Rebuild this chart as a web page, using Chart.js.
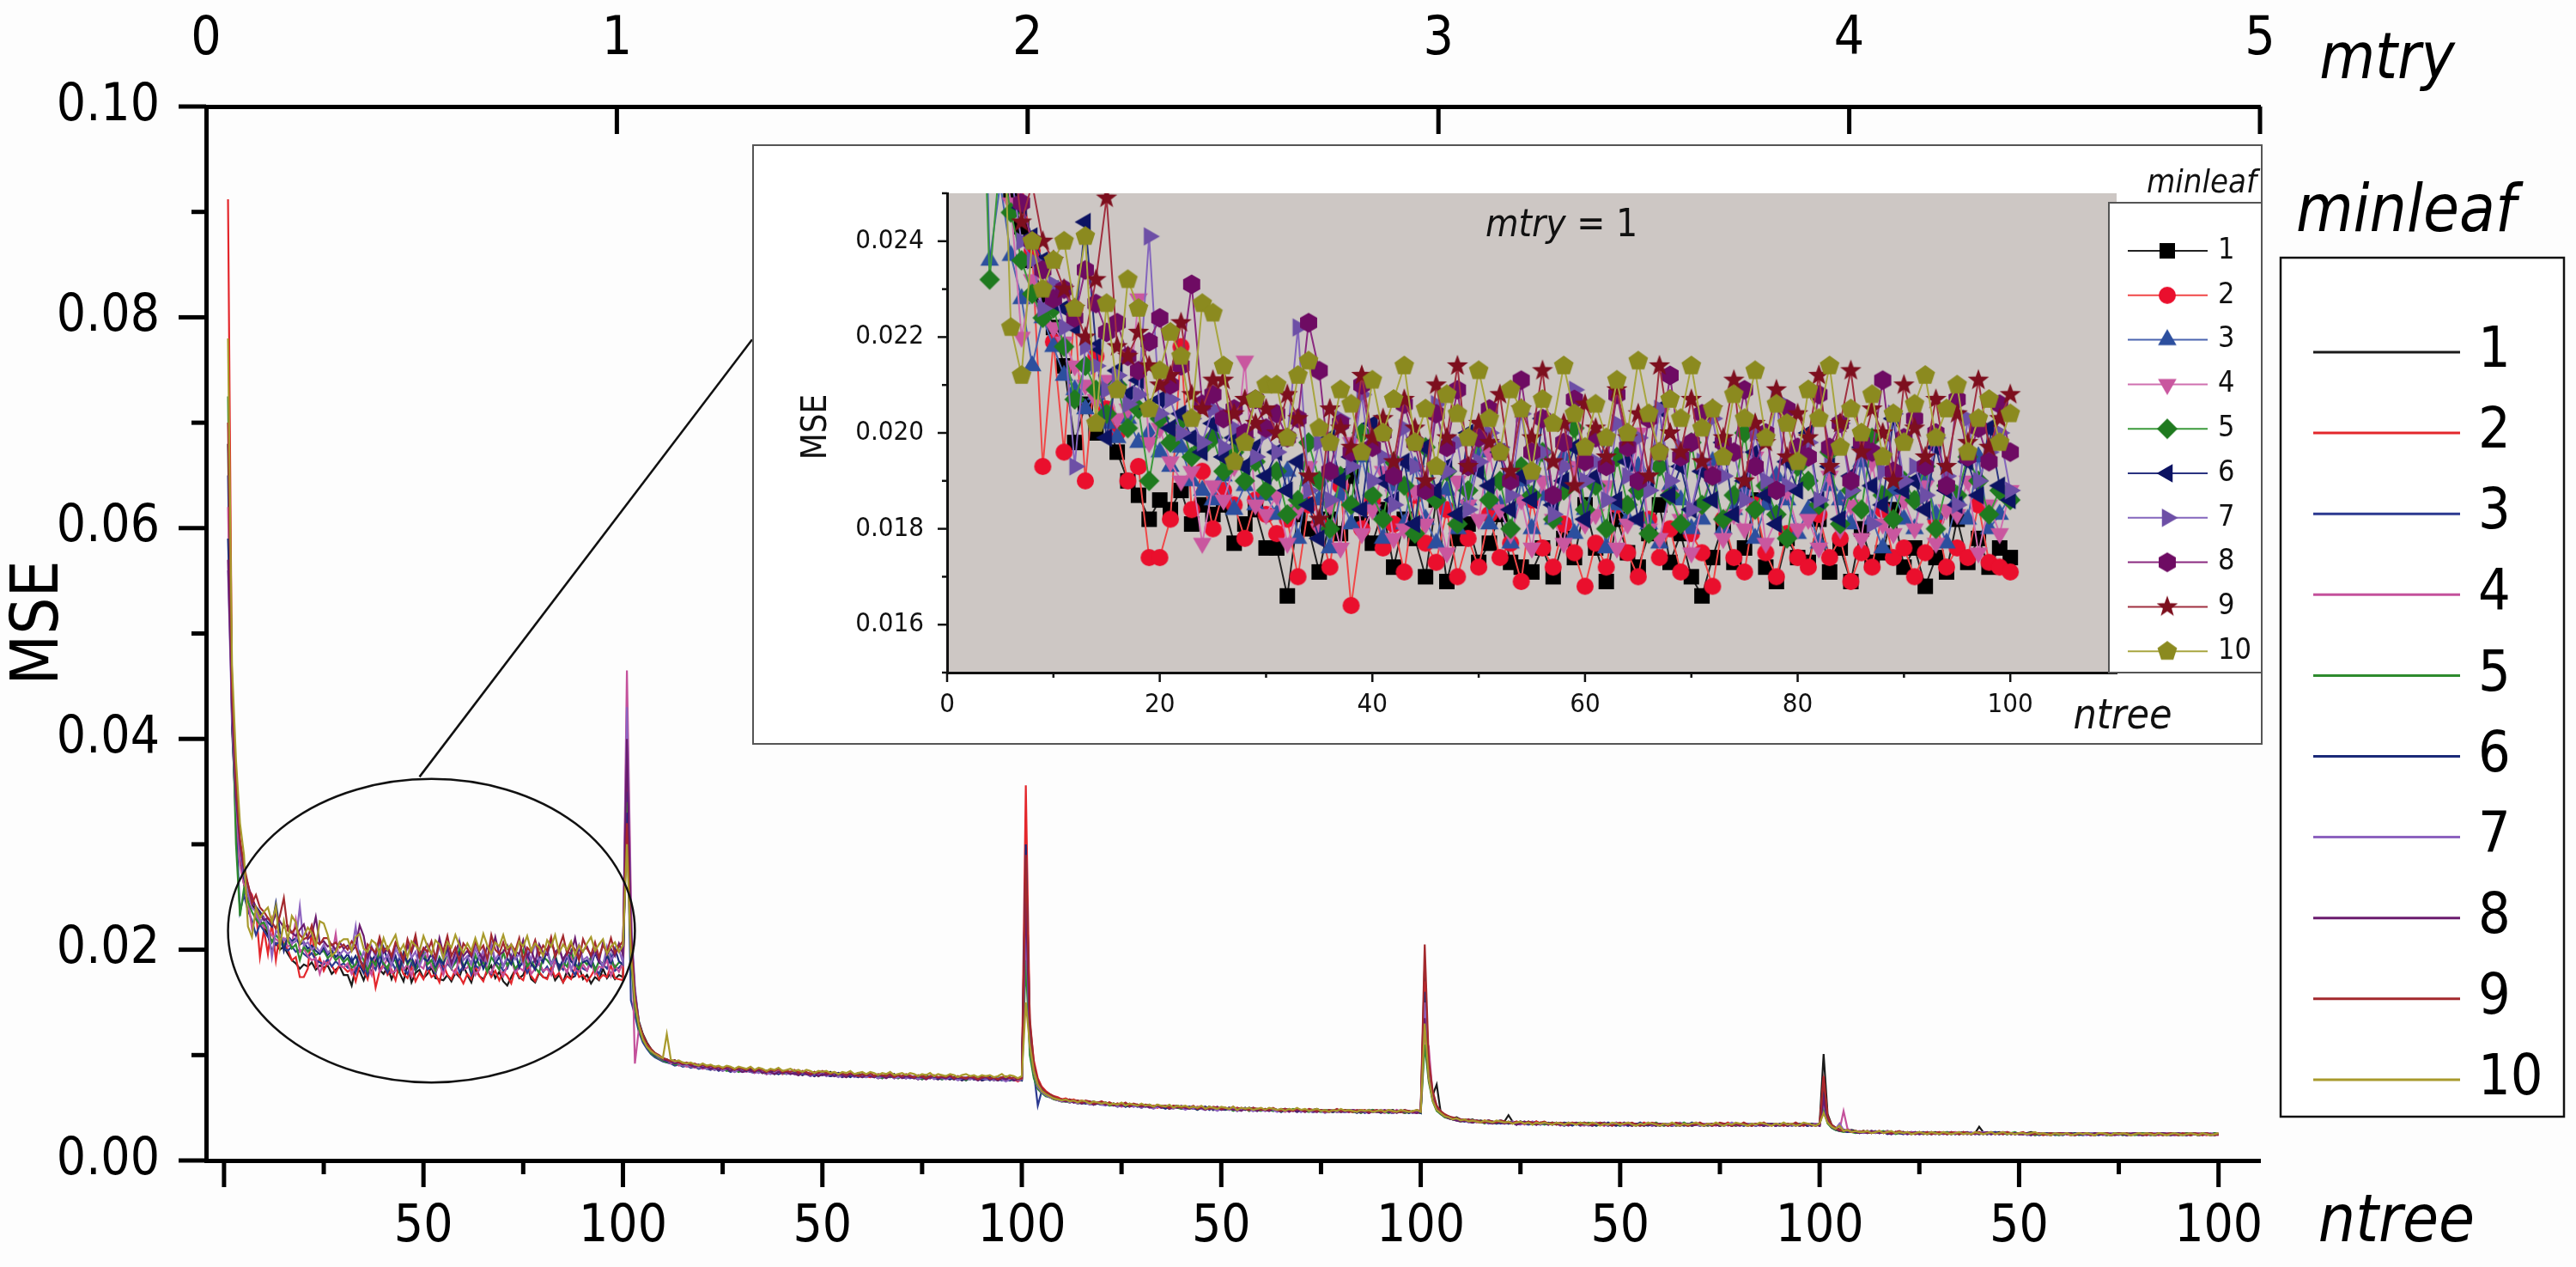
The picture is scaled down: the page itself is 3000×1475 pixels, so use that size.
<!DOCTYPE html>
<html><head><meta charset="utf-8">
<script src="https://cdn.jsdelivr.net/npm/chart.js@4.4.1/dist/chart.umd.min.js"></script>
<style>
html,body{margin:0;padding:0;background:#fdfdfd;}
#wrap{position:relative;width:3000px;height:1475px;overflow:hidden;}
#main{position:absolute;left:0;top:0;}
#inset{position:absolute;left:876px;top:168px;}
</style></head><body>
<div id="wrap"><canvas id="main" width="3000" height="1475"></canvas><canvas id="inset" width="1759" height="699"></canvas></div>
<script>
// MSE x 10^4 ; each series: one array per mtry (1..5), ntree 1..100
const minleaf1 = [
[680,410,330,285,262,250,243,236,228,222,214,198,206,200,203,196,190,187,182,186,184,188,181,185,183,185,177,181,184,176,176,166,183,180,171,182,179,191,181,177,184,172,182,178,170,186,169,178,181,173,177,183,173,172,171,176,170,178,174,185,176,169,182,175,172,179,185,173,179,170,166,174,181,173,176,186,172,169,178,174,173,182,171,176,169,180,173,175,184,172,176,168,174,171,182,173,178,172,176,174],
[380,215,160,132,120,112,106,102,99,97,96,94,95,92,93,91,92,90,91,89,90,88,89,87,88,86,88,87,85,86,87,85,86,84,86,85,84,85,83,85,84,83,85,82,84,83,82,84,81,83,82,84,81,83,82,80,82,81,83,80,81,82,80,81,79,81,80,82,79,80,81,79,80,78,80,81,79,80,78,79,80,78,79,80,78,79,77,79,78,80,78,79,77,78,79,77,78,76,78,77],
[260,118,88,74,68,64,62,60,59,58,57,58,56,57,55,56,55,54,55,54,55,53,54,53,54,52,53,52,53,51,52,53,51,52,51,52,50,51,52,50,51,50,51,49,50,51,49,50,49,50,49,50,48,50,49,48,50,49,48,49,48,49,48,47,49,48,47,48,49,47,48,47,48,49,47,48,47,46,48,47,47,48,46,47,48,46,47,48,46,47,46,47,48,46,47,46,47,45,47,46],
[185,82,62,72,46,43,42,40,41,39,39,38,39,37,38,37,38,36,37,38,37,43,37,36,37,36,35,36,37,35,36,35,36,35,34,36,35,34,35,36,35,34,35,34,36,35,34,35,34,35,34,35,34,33,35,34,35,34,33,34,35,34,33,34,35,34,33,34,35,34,33,34,35,34,33,34,35,33,34,35,34,33,34,35,34,33,34,35,34,33,34,35,33,34,35,34,33,35,34,35],
[101,44,34,31,30,29,28,29,28,27,28,27,28,27,26,27,28,27,26,27,27,26,27,26,27,26,25,26,27,26,26,27,26,25,26,27,26,25,26,32,27,26,25,26,27,26,25,26,25,26,25,26,27,26,25,26,25,26,25,26,26,25,26,25,26,25,26,25,26,25,25,26,25,26,25,26,25,26,25,26,26,25,26,25,26,25,26,25,26,25,25,26,25,26,25,26,25,25,26,25]];
const minleaf2 = [
[912,445,340,290,268,258,252,238,193,219,196,226,190,216,205,200,190,193,174,174,182,218,184,192,180,188,185,178,186,183,179,182,170,185,181,172,189,164,180,186,176,181,171,187,177,173,184,170,178,172,183,174,177,169,186,176,172,181,175,168,177,172,185,175,170,182,174,180,171,179,175,168,182,174,171,185,175,170,179,174,172,183,174,178,169,175,172,184,174,176,170,175,182,172,176,174,185,173,172,171],
[360,205,150,128,116,108,103,100,97,96,95,93,94,91,92,90,91,89,90,88,89,87,88,86,87,88,85,87,86,85,86,84,85,86,83,85,84,83,85,82,84,83,82,84,81,83,82,80,83,81,82,80,82,81,79,81,80,82,79,81,80,79,81,78,80,79,81,78,80,79,78,80,79,77,79,80,78,79,77,79,78,77,79,78,76,78,79,77,78,76,77,78,76,78,77,76,78,77,75,77],
[356,130,95,78,70,66,63,61,60,58,59,57,58,56,57,55,56,55,54,56,54,55,53,54,52,54,53,52,53,51,53,51,52,50,52,51,50,52,50,51,50,51,49,51,50,49,51,48,50,49,50,48,49,50,48,49,47,49,48,49,47,49,48,47,48,49,47,48,46,48,47,48,46,48,47,46,48,47,46,47,48,46,47,46,48,47,45,47,46,47,46,47,45,47,46,45,47,46,45,46],
[170,88,60,50,45,42,41,40,39,38,39,37,38,37,36,38,37,36,37,36,37,36,35,37,36,35,36,35,37,35,36,35,34,36,35,34,35,36,34,35,34,35,36,34,35,33,35,34,36,34,35,34,33,35,34,36,34,33,35,34,33,35,34,33,34,35,33,34,35,33,34,33,35,34,33,34,36,34,33,34,35,33,34,33,35,34,33,34,33,35,34,33,34,35,33,34,33,34,35,33],
[80,40,33,30,29,28,29,27,28,27,27,28,26,27,28,26,27,26,27,26,27,26,25,27,26,25,26,27,25,26,26,25,26,27,25,26,25,26,25,27,26,25,26,25,26,25,27,25,26,25,25,26,25,26,25,26,25,24,26,25,26,25,24,26,25,26,25,24,25,26,25,24,26,25,25,26,24,25,26,25,24,25,26,25,24,25,26,25,24,25,25,26,24,25,26,25,24,25,25,24]];
const minleaf3 = [
[650,420,320,236,252,237,228,214,224,218,212,209,205,208,202,199,203,198,200,196,193,197,190,188,186,191,184,189,185,187,183,192,178,190,186,176,187,181,195,185,178,189,181,193,182,177,188,180,186,196,181,185,177,190,180,187,182,195,179,184,190,176,185,182,193,181,177,189,186,180,182,194,180,184,188,178,185,191,186,179,184,177,189,186,181,194,182,176,188,182,180,191,183,177,186,182,195,180,183,187],
[350,152,138,122,112,106,101,98,96,94,93,92,90,91,89,90,88,89,87,88,87,86,88,85,87,86,84,86,85,84,85,84,83,85,84,82,84,83,82,84,83,82,84,81,83,82,80,82,81,83,81,80,82,81,79,81,82,80,79,81,80,81,79,80,78,80,79,81,78,80,79,78,80,79,77,79,78,80,78,77,79,78,77,79,78,76,78,77,79,77,78,76,78,77,76,78,77,76,78,77],
[270,112,84,52,66,63,61,59,58,57,56,57,55,56,54,55,54,53,55,53,54,52,53,52,53,51,52,53,51,52,51,52,50,51,52,50,51,50,51,49,50,51,49,50,49,51,48,50,49,48,49,50,48,49,48,50,48,47,49,48,48,49,47,48,47,49,48,47,48,46,48,47,46,48,47,46,47,48,46,47,46,47,48,46,47,45,47,46,47,46,47,46,45,47,46,47,45,46,47,45],
[140,80,58,48,44,42,40,39,38,38,37,38,36,37,36,37,35,36,37,35,36,35,36,34,36,35,34,35,36,34,35,34,36,35,34,33,35,34,35,33,34,35,33,34,35,34,33,35,34,33,34,33,35,34,33,34,35,33,34,33,35,34,33,34,33,35,34,33,34,35,33,34,33,35,34,33,34,33,35,34,33,35,34,33,34,35,33,34,33,34,35,33,34,33,35,34,33,34,33,34],
[60,36,31,29,28,28,27,28,27,26,27,26,27,28,26,27,26,25,27,26,26,25,27,26,25,26,27,25,26,25,26,25,26,25,27,26,25,26,25,26,25,26,25,27,26,25,26,25,26,25,26,25,24,26,25,26,25,26,24,25,25,26,25,24,26,25,26,25,24,25,26,25,24,25,26,25,24,26,25,24,25,26,25,24,25,26,24,25,26,25,24,25,26,25,24,25,26,24,25,25]];
const minleaf4 = [
[620,430,335,280,262,248,220,232,226,222,219,214,210,207,211,203,205,228,198,201,194,190,192,177,189,186,193,215,185,183,187,177,184,193,180,185,176,198,179,184,192,178,180,188,181,186,175,190,185,182,196,184,179,186,176,190,182,177,193,181,183,189,176,181,200,180,178,187,182,175,185,192,178,183,180,195,177,182,188,180,182,176,191,180,185,178,194,181,179,186,180,189,177,184,183,190,175,185,179,188],
[465,250,92,125,116,108,103,100,97,95,94,92,93,90,91,89,90,88,89,87,88,87,86,88,85,87,86,84,86,85,84,86,83,85,84,82,84,83,85,82,83,84,82,81,83,82,84,80,82,81,82,80,81,83,80,79,81,82,80,79,81,80,79,81,78,80,82,79,78,80,79,81,78,80,79,77,79,80,78,79,78,79,77,80,78,77,79,78,76,78,79,77,78,76,78,79,77,78,76,77],
[210,105,80,68,64,62,60,58,57,56,57,55,56,54,55,56,54,53,55,54,53,54,52,53,51,53,52,51,53,52,51,52,50,51,50,52,49,51,50,51,49,50,51,49,50,48,50,49,48,50,49,48,50,47,49,48,49,47,48,49,47,48,49,47,48,46,48,47,49,47,46,48,47,46,48,47,46,48,47,46,47,46,48,47,45,47,46,47,48,46,45,47,46,48,46,45,47,46,45,47],
[118,108,62,50,46,43,41,40,39,38,38,37,38,36,37,36,38,35,36,37,35,36,37,35,36,34,36,35,34,36,35,34,36,35,33,35,34,36,35,34,33,35,34,36,34,33,35,34,33,35,34,36,33,34,35,33,34,35,34,33,34,33,35,34,33,35,34,33,36,34,33,35,34,33,34,35,33,34,33,35,34,33,35,34,33,34,35,34,33,34,33,34,35,33,34,33,35,34,33,34],
[50,38,33,30,29,47,30,28,27,28,27,28,26,27,26,27,28,26,27,26,25,26,27,26,25,27,26,25,26,27,25,26,25,27,26,25,26,25,27,26,26,25,26,25,26,27,25,26,25,26,25,26,25,24,26,25,26,25,26,24,26,25,24,25,26,25,26,24,25,26,25,24,26,25,26,24,25,26,25,24,26,25,24,25,26,25,24,26,25,24,25,24,26,25,24,26,25,24,25,26]];
const minleaf5 = [
[725,440,300,232,258,246,236,229,224,226,218,207,214,209,204,210,201,205,190,203,198,202,195,197,199,192,196,190,194,188,192,183,186,198,190,180,191,185,200,187,182,194,189,179,197,186,192,181,188,199,186,190,180,193,187,196,182,188,201,184,189,180,195,185,188,179,193,187,181,198,185,191,182,187,200,184,189,183,178,193,190,185,196,181,188,184,199,187,182,190,186,193,180,189,187,195,190,183,188,186],
[340,190,145,125,114,108,102,99,97,95,93,94,91,92,90,91,89,90,88,89,87,88,86,88,87,85,87,86,84,86,85,86,84,85,83,85,84,82,84,83,82,84,83,81,83,82,81,83,80,82,81,82,80,81,82,79,81,80,82,79,80,81,79,80,78,81,79,80,78,80,79,80,78,79,77,79,80,78,79,77,78,79,77,79,78,76,79,78,77,78,77,78,76,79,77,78,76,77,78,76],
[190,100,78,68,64,61,60,58,57,56,56,55,57,54,55,54,56,53,54,53,54,52,53,51,53,52,51,53,52,50,52,51,50,52,50,51,49,51,50,49,51,49,50,48,50,49,51,48,49,50,48,49,47,49,48,50,47,49,48,47,49,48,47,48,46,48,47,49,47,48,47,46,48,47,46,47,48,46,47,46,48,47,46,47,45,47,46,48,46,47,46,45,47,46,47,45,46,47,46,45],
[110,75,56,47,44,41,40,39,38,37,38,37,36,38,37,35,37,36,35,37,36,35,36,34,36,35,37,34,35,36,34,35,36,34,35,33,35,34,36,35,34,36,35,33,34,35,33,35,34,33,35,34,33,35,34,33,35,34,36,34,33,34,35,33,34,36,34,33,34,35,34,33,34,35,33,34,35,34,33,34,35,34,33,34,35,33,34,35,34,33,34,35,33,34,33,35,34,33,34,35],
[48,35,31,29,28,27,28,27,26,27,28,26,27,26,27,28,26,27,25,26,27,26,25,26,27,25,26,27,26,25,26,27,25,26,25,26,27,25,26,25,26,25,27,26,25,26,25,26,27,25,26,25,26,24,25,26,25,26,25,24,25,26,25,26,24,25,26,25,24,26,25,24,25,26,25,24,26,25,24,25,26,25,24,25,26,24,25,26,25,24,25,26,24,25,24,26,25,24,26,25]];
const minleaf6 = [
[590,455,350,298,268,255,247,241,236,230,226,222,244,218,199,213,208,211,205,207,201,204,199,196,202,195,199,193,197,191,196,188,194,185,178,199,190,195,184,202,190,186,194,181,197,188,193,183,200,192,189,196,184,191,186,203,185,190,197,182,191,199,186,194,182,190,205,187,193,184,192,186,198,183,190,196,187,181,194,188,200,186,193,182,191,197,189,185,203,188,190,184,197,188,185,194,187,201,189,186],
[330,200,150,128,116,109,104,100,98,96,94,93,95,92,91,92,90,91,89,90,88,89,87,88,86,88,87,85,87,86,85,87,84,86,85,83,85,84,82,84,83,84,82,83,81,83,82,80,82,81,82,80,81,83,80,81,79,81,80,82,79,81,80,78,80,79,81,78,80,79,78,80,79,77,79,78,80,78,77,79,78,77,79,78,76,78,79,77,78,76,77,79,77,76,78,77,76,78,77,76],
[300,125,90,75,68,64,62,60,58,57,58,56,57,55,56,54,55,56,54,53,55,53,54,52,53,51,53,52,51,53,51,52,50,52,51,49,51,50,52,50,49,51,50,48,50,49,51,48,50,49,48,50,49,47,49,48,50,48,47,49,48,47,49,48,46,48,47,48,46,48,47,48,46,47,48,46,47,46,48,47,46,48,47,45,47,46,48,46,47,45,47,46,45,47,46,48,45,47,46,45],
[160,85,60,49,45,42,41,39,40,38,37,39,36,38,37,36,38,37,35,36,37,35,36,34,37,35,36,35,34,36,35,36,34,35,34,36,35,33,35,34,36,34,35,33,35,34,36,34,33,35,34,33,35,34,36,34,33,35,34,33,35,34,33,35,34,33,34,36,34,33,34,35,33,34,33,35,34,33,35,34,33,34,35,33,34,33,35,34,33,35,34,33,34,35,33,34,33,35,34,33],
[65,39,32,30,29,28,27,28,27,26,27,28,26,27,26,27,25,26,27,26,25,27,26,25,26,27,26,25,26,25,27,26,25,26,25,27,26,25,26,25,26,25,26,27,25,26,25,26,25,26,25,26,25,26,24,25,26,25,26,25,24,26,25,26,25,24,25,26,25,24,26,25,24,25,26,25,24,25,26,25,24,25,26,24,25,26,25,24,25,26,25,24,25,26,24,25,26,25,24,25]];
const minleaf7 = [
[560,420,340,295,272,254,240,236,226,231,222,193,218,214,209,212,206,208,241,204,207,200,203,198,205,197,201,199,195,200,196,199,222,188,198,186,203,193,208,190,195,185,201,193,189,206,192,198,184,194,200,197,187,204,191,196,183,193,209,190,194,186,202,191,199,188,205,190,197,184,194,203,191,196,186,200,190,207,189,194,198,186,193,202,188,196,181,192,204,190,193,187,199,191,185,203,190,196,200,188],
[430,230,165,130,118,110,104,101,98,96,95,93,94,92,90,91,89,90,88,89,87,88,86,87,85,87,86,84,86,85,86,84,85,83,85,84,82,84,83,85,82,84,83,81,83,82,80,82,81,83,80,82,81,79,81,80,82,79,81,80,79,81,80,78,80,79,81,78,79,80,78,79,80,77,79,78,80,77,79,78,77,79,78,76,78,79,77,78,76,78,77,78,76,78,77,75,77,78,76,77],
[230,110,84,70,65,62,60,59,57,56,57,55,56,54,56,55,53,54,55,53,52,54,53,51,53,52,54,51,52,50,52,51,49,51,50,52,50,49,51,50,48,50,49,51,49,48,50,49,47,49,50,48,49,47,48,50,48,47,49,48,47,49,48,46,48,47,49,47,48,46,48,47,46,48,47,45,47,48,46,47,46,47,48,46,47,46,45,47,46,48,46,47,45,46,48,46,47,45,46,47],
[150,90,64,52,46,43,41,40,38,39,38,36,37,38,36,37,35,37,36,38,35,36,37,35,34,36,35,37,35,34,36,35,34,36,35,33,36,35,34,35,35,33,34,36,35,34,33,35,36,34,33,35,34,33,35,34,36,33,34,35,34,35,33,34,36,34,33,35,34,33,35,34,33,34,35,33,34,36,34,33,34,35,34,33,35,34,33,34,35,33,35,34,33,34,33,35,34,33,35,34],
[55,37,32,30,35,29,28,27,28,27,26,27,28,26,27,26,27,25,26,27,26,25,26,27,25,26,27,26,25,26,25,26,27,25,26,25,26,27,25,26,27,26,25,26,25,26,27,25,26,25,26,24,25,26,25,26,24,25,26,25,25,26,24,25,26,25,24,26,25,26,24,25,26,25,24,26,25,24,25,26,25,24,25,26,25,24,26,25,24,25,26,25,24,25,26,24,25,26,25,24]];
const minleaf8 = [
[570,430,345,300,275,262,248,240,234,228,230,224,234,227,221,223,216,213,219,224,210,214,231,206,208,203,205,200,207,201,204,199,203,223,213,192,202,196,210,197,200,191,206,198,188,204,197,209,193,199,205,196,190,211,196,203,187,198,207,194,199,193,208,197,190,203,196,212,195,198,204,191,198,196,209,193,200,188,205,197,195,208,197,202,190,198,196,211,192,199,203,193,200,189,207,195,201,194,206,196],
[400,220,160,130,118,110,105,101,99,96,95,94,92,93,91,92,90,89,90,88,89,87,88,86,88,87,85,87,86,84,86,85,84,86,83,85,84,82,84,83,84,82,83,81,84,82,81,83,80,82,81,83,80,82,81,79,82,80,81,79,81,80,79,81,80,78,80,79,81,78,80,79,78,80,79,77,79,80,78,79,78,80,77,79,78,77,79,78,76,78,79,77,78,76,78,77,79,76,77,78],
[250,115,86,72,66,63,61,59,58,57,56,57,55,56,54,55,56,53,54,55,53,54,52,53,52,54,51,53,52,51,52,50,51,52,50,51,49,51,50,52,50,49,51,49,50,48,50,49,51,48,49,50,48,49,47,49,48,50,47,49,48,47,49,48,47,49,46,48,47,48,46,48,47,46,48,47,46,47,48,46,47,46,48,47,46,47,45,47,46,47,48,46,47,45,47,46,47,46,45,47],
[135,78,58,49,45,42,40,39,38,37,38,37,36,38,36,37,36,35,37,36,35,37,36,34,35,37,35,36,34,35,36,34,35,36,34,35,33,35,36,34,35,34,33,35,34,36,34,33,35,34,36,34,33,35,34,33,35,34,33,35,34,33,35,34,33,34,35,33,34,35,33,34,35,34,33,35,34,33,34,33,35,34,33,35,34,33,34,35,33,34,34,33,35,34,33,34,35,33,34,33],
[58,38,32,30,28,29,28,27,27,26,27,26,28,27,26,27,26,25,27,26,27,25,26,27,25,26,25,27,26,25,26,25,27,26,25,26,27,25,26,25,26,27,25,26,25,27,26,25,26,25,25,26,24,26,25,26,25,24,26,25,26,25,26,24,25,26,25,24,26,25,25,26,25,24,25,26,24,25,26,25,24,26,25,24,25,26,25,24,25,26,25,24,26,25,24,25,26,24,25,25]];
const minleaf9 = [
[700,450,360,305,280,262,244,252,240,236,230,226,220,232,249,218,216,221,214,210,212,223,208,205,211,211,204,207,202,205,200,208,203,191,182,205,201,197,212,199,203,194,207,201,190,210,199,214,193,202,198,208,192,205,199,213,194,202,189,206,201,195,209,199,204,191,214,200,196,207,194,205,199,211,190,202,198,209,195,204,199,212,193,202,213,196,205,200,190,210,201,195,207,193,204,198,211,197,203,208],
[320,210,155,130,119,111,106,102,100,97,96,94,95,93,92,93,91,92,90,91,89,90,88,89,87,89,88,86,88,87,86,88,85,87,86,84,86,85,87,84,85,84,86,83,85,84,82,84,83,85,83,82,84,82,83,81,83,82,80,82,81,83,80,82,81,80,82,79,81,80,82,80,79,81,80,78,80,81,79,80,79,81,78,80,79,78,80,79,77,79,80,78,79,77,79,80,78,79,77,78],
[290,135,92,76,69,65,63,61,59,58,57,58,56,57,55,57,56,54,55,56,54,55,53,54,53,55,52,54,53,52,53,52,51,53,51,52,50,52,51,50,51,50,52,49,51,50,49,51,50,49,50,49,51,48,50,49,48,50,49,48,49,48,50,48,47,49,48,47,49,48,47,49,48,47,48,46,48,47,49,47,48,47,46,48,47,48,46,47,48,46,47,48,46,47,46,48,47,46,48,47],
[205,95,66,52,47,44,42,41,40,39,38,39,37,38,37,36,38,37,36,38,37,36,35,37,36,35,37,36,35,36,37,35,36,34,36,35,34,36,35,34,36,35,34,35,36,34,35,33,35,36,34,35,36,34,33,35,34,36,35,34,35,33,34,36,35,34,33,35,34,36,34,35,33,34,36,35,34,33,35,34,36,34,33,35,34,36,34,33,35,34,33,35,34,36,34,33,35,34,33,35],
[75,42,34,31,29,28,29,27,28,27,28,27,26,27,28,26,27,26,27,28,26,27,26,25,27,26,27,25,26,27,26,25,27,26,25,27,26,25,26,27,25,26,27,25,26,25,27,26,25,26,27,25,26,25,26,24,25,26,25,26,25,26,25,24,26,25,26,25,24,26,25,26,24,25,26,25,26,24,25,26,25,24,26,25,26,24,25,26,25,24,26,25,24,26,25,24,26,25,24,25]];
const minleaf10 = [
[780,470,380,320,290,222,212,240,230,236,240,226,241,202,227,209,232,226,205,213,221,216,203,227,225,214,194,198,207,210,210,199,212,215,201,198,209,206,196,211,200,207,214,198,205,193,208,204,199,213,203,196,209,205,192,207,202,214,204,197,206,199,211,200,215,204,196,207,203,214,201,205,195,208,203,213,199,206,202,194,209,203,214,197,205,200,208,195,204,198,206,212,199,205,210,196,203,207,198,204],
[300,195,150,128,115,108,104,101,99,97,120,96,94,95,93,92,93,91,90,92,90,91,89,90,88,90,89,87,89,88,87,89,86,88,87,85,87,86,88,85,86,87,85,86,84,86,85,83,85,84,85,83,84,82,84,83,85,82,83,84,82,84,83,81,83,82,84,81,82,83,81,83,82,80,82,81,83,80,82,81,80,82,81,79,81,82,80,81,79,81,80,81,79,80,82,79,81,80,78,80],
[150,110,85,72,66,63,61,59,58,57,58,56,57,55,57,56,54,56,55,54,55,53,54,53,55,52,54,53,52,54,52,53,51,53,52,51,53,50,52,51,52,50,51,50,52,49,51,50,49,51,50,49,51,48,50,49,50,48,49,50,48,50,49,48,49,47,49,48,50,48,49,47,48,49,47,48,46,48,47,49,47,48,47,46,48,47,48,46,47,48,46,48,47,46,48,47,46,47,48,46],
[130,78,57,48,45,42,41,39,40,38,39,37,38,37,36,38,37,36,38,37,36,37,35,36,37,35,36,34,36,35,36,35,34,36,35,34,36,35,34,36,35,34,36,35,33,35,34,36,35,34,35,36,34,33,35,34,36,35,34,33,35,34,36,34,33,35,34,35,36,34,33,35,34,36,34,33,35,34,36,35,34,33,35,34,36,35,34,33,35,34,36,34,35,33,34,36,35,34,33,35],
[45,36,32,30,33,28,29,27,28,27,27,28,26,27,28,26,27,28,26,27,26,27,25,26,27,26,25,27,26,25,27,26,25,26,27,25,26,25,27,26,25,26,27,25,26,27,25,26,25,26,26,25,26,27,25,26,25,24,26,25,25,26,24,25,26,25,26,25,24,26,26,25,24,26,25,26,25,24,25,26,25,26,25,24,26,25,24,25,26,25,24,25,26,25,24,26,25,24,25,26]];

const minleafLabels = ['1','2','3','4','5','6','7','8','9','10'];
const mtryTickValues = [0,1,2,3,4,5];
const mtryTickLabels = ['0','1','2','3','4','5'];
const ntreeTickValues = [0,25,50,75,100,125,150,175,200,225,250,275,300,325,350,375,400,425,450,475,500];
const ntreeTickLabels = ['','','50','','100','','50','','100','','50','','100','','50','','100','','50','','100'];
const mseTickValues = [0,0.01,0.02,0.03,0.04,0.05,0.06,0.07,0.08,0.09,0.10];
const mseTickLabels = ['0.00','','0.02','','0.04','','0.06','','0.08','','0.10'];
const insetMseTickValues = [0.015,0.016,0.017,0.018,0.019,0.020,0.021,0.022,0.023,0.024,0.025];
const insetMseTickLabels = ['','0.016','','0.018','','0.020','','0.022','','0.024',''];
const insetNtreeTickValues = [0,10,20,30,40,50,60,70,80,90,100];
const insetNtreeTickLabels = ['0','','20','','40','','60','','80','','100'];
// zoom annotation (data units of the main chart)
const zoomEllipse = {cx:52, cy:0.0218, rx:51, ry:0.0144};
const zoomLink = {x1:49, y1:0.0364, x2:132.4, y2:0.0779};

const series = [minleaf1,minleaf2,minleaf3,minleaf4,minleaf5,minleaf6,minleaf7,minleaf8,minleaf9,minleaf10];
const lineColors = ['#1a1a1a','#e3262b','#2b3990','#c4519b','#2e8b2e','#1b2a78','#8d63bf','#6a1b6e','#a3292d','#a89a2c'];
const markerColors = ['#000000','#ea0f2d','#2c4f9e','#c9579f','#1f7a1f','#0c1362','#6d4fa6','#6e0b63','#7d0f1e','#8b8a1f'];
const insetLineColors = ['#222222','#f04848','#4a64b0','#d070b0','#3c9a3c','#2a3380','#8466bd','#8a2a80','#a03040','#a8a640'];
const markerShapes = ['square','circle','up','down','diamond','left','right','hexagon','star','pentagon'];
const FONT = "'DejaVu Sans Condensed','DejaVu Sans',sans-serif";

function makeMarker(shape, color){
  const c = document.createElement('canvas'); c.width = 30; c.height = 30;
  const g = c.getContext('2d'); g.fillStyle = color; g.translate(15,15); g.beginPath();
  const poly = (n,r,rot)=>{ for(let i=0;i<n;i++){const a=rot+i*2*Math.PI/n; const px=r*Math.sin(a), py=-r*Math.cos(a); if(i) g.lineTo(px,py); else g.moveTo(px,py);} g.closePath(); };
  if(shape==='square') g.rect(-9,-9,18,18);
  else if(shape==='circle') g.arc(0,0,10,0,Math.PI*2);
  else if(shape==='up') poly(3,12.5,0);
  else if(shape==='down') poly(3,12.5,Math.PI);
  else if(shape==='left') poly(3,12.5,-Math.PI/2);
  else if(shape==='right') poly(3,12.5,Math.PI/2);
  else if(shape==='diamond') poly(4,12,0);
  else if(shape==='hexagon') poly(6,11.5,0);
  else if(shape==='pentagon') poly(5,12,0);
  else if(shape==='star'){ for(let i=0;i<10;i++){const r=i%2?5.3:13; const a=i*Math.PI/5; const px=r*Math.sin(a), py=-r*Math.cos(a); if(i) g.lineTo(px,py); else g.moveTo(px,py);} g.closePath(); }
  g.fill(); return c;
}
const markers = markerShapes.map((s,k)=>makeMarker(s, markerColors[k]));

function seg(ctx,x1,y1,x2,y2,w,color){ctx.beginPath();ctx.moveTo(x1,y1);ctx.lineTo(x2,y2);ctx.lineWidth=w;ctx.strokeStyle=color;ctx.stroke();}
function txt(ctx,s,x,y,font,align,color){ctx.font=font;ctx.textAlign=align||'center';ctx.textBaseline='middle';ctx.fillStyle=color||'#000';ctx.fillText(s,x,y);}
const setTicks = vals => s => { s.ticks = vals.map(v=>({value:v})); };

// ---------------- main chart ----------------
const mainDatasets = series.map((s,k)=>({
  label: minleafLabels[k],
  data: s.flatMap((arr,m)=>arr.map((v,j)=>({x: m*100 + j + 1, y: v/1e4}))),
  borderColor: lineColors[k], borderWidth: 2.2, pointRadius: 0, tension: 0, fill:false, order: 9-k
}));

const mainDeco = {
  id:'mainDeco',
  beforeDraw(chart){ const c=chart.ctx; c.save(); c.fillStyle='#fdfdfd'; c.fillRect(0,0,chart.width,chart.height); c.restore(); },
  afterDraw(chart){
    const ctx=chart.ctx, a=chart.chartArea, sx=chart.scales.x, sy=chart.scales.y, st=chart.scales.xTop;
    ctx.save(); ctx.lineCap='butt';
    mseTickValues.forEach((v,i)=>{const p=sy.getPixelForValue(v); seg(ctx,a.left-(mseTickLabels[i]?32:17),p,a.left,p,5,'#000');});
    ntreeTickValues.forEach(v=>{const p=sx.getPixelForValue(v); seg(ctx,p,a.bottom,p,a.bottom+(v%50===0?31:16),5,'#000');});
    mtryTickValues.forEach(v=>{ if(v>0){const p=st.getPixelForValue(v); seg(ctx,p,a.top,p,a.top+32,5,'#000');}});
    const cx=sx.getPixelForValue(zoomEllipse.cx), cy=sy.getPixelForValue(zoomEllipse.cy);
    const rx=sx.getPixelForValue(zoomEllipse.cx+zoomEllipse.rx)-cx, ry=cy-sy.getPixelForValue(zoomEllipse.cy+zoomEllipse.ry);
    ctx.beginPath(); ctx.ellipse(cx,cy,rx,ry,0,0,Math.PI*2); ctx.lineWidth=2.5; ctx.strokeStyle='#111'; ctx.stroke();
    seg(ctx,sx.getPixelForValue(zoomLink.x1),sy.getPixelForValue(zoomLink.y1),sx.getPixelForValue(zoomLink.x2),sy.getPixelForValue(zoomLink.y2),2.5,'#111');
    ctx.save(); ctx.translate(47,725); ctx.rotate(-Math.PI/2); txt(ctx,'MSE',0,0,`76px ${FONT}`); ctx.restore();
    txt(ctx,'mtry',2780,72,`italic 74px ${FONT}`);
    txt(ctx,'ntree',2791,1425,`italic 76px ${FONT}`);
    txt(ctx,'minleaf',2802,249,`italic 76px ${FONT}`);
    ctx.fillStyle='#fff'; ctx.fillRect(2656,300,330,1000);
    ctx.lineWidth=2.5; ctx.strokeStyle='#111'; ctx.strokeRect(2656,300,330,1000);
    minleafLabels.forEach((lab,k)=>{const y=410+94.1*k; seg(ctx,2694,y,2865,y,3,lineColors[k]); txt(ctx,lab,2886,y,`66px ${FONT}`,'left');});
    ctx.restore();
  }
};

new Chart(document.getElementById('main'), {
  type:'line',
  data:{datasets:mainDatasets},
  options:{
    responsive:false, animation:false, devicePixelRatio:1, events:[],
    layout:{padding:{left:0,right:368,top:0,bottom:0}},
    plugins:{legend:{display:false}, tooltip:{enabled:false}},
    scales:{
      x:{type:'linear', position:'bottom', min:-4.5, max:510.4, afterBuildTicks:setTicks(ntreeTickValues),
         ticks:{autoSkip:false, maxRotation:0, minRotation:0, padding:42, color:'#000', font:{family:FONT,size:60}, callback:(v,i)=>ntreeTickLabels[i]},
         grid:{display:false, drawTicks:false}, border:{display:true, color:'#000', width:5}, afterFit:s=>{s.height=124;}},
      xTop:{type:'linear', position:'top', min:0, max:5, afterBuildTicks:setTicks(mtryTickValues),
         ticks:{autoSkip:false, maxRotation:0, minRotation:0, padding:40, color:'#000', font:{family:FONT,size:62}, callback:(v,i)=>mtryTickLabels[i]},
         grid:{display:false, drawTicks:false}, border:{display:true, color:'#000', width:5}, afterFit:s=>{s.height=124;}},
      y:{type:'linear', position:'left', min:0, max:0.1, afterBuildTicks:setTicks(mseTickValues),
         ticks:{padding:54, color:'#000', font:{family:FONT,size:60}, callback:(v,i)=>mseTickLabels[i]},
         grid:{display:false, drawTicks:false}, border:{display:true, color:'#000', width:5}, afterFit:s=>{s.width=240;}}
    }
  },
  plugins:[mainDeco]
});

// ---------------- inset chart (mtry = 1) ----------------
const insetDatasets = series.map((s,k)=>({
  label: minleafLabels[k],
  data: s[0].map((v,j)=>({x:j+1, y:v/1e4})),
  borderColor: insetLineColors[k], borderWidth: 2, pointStyle: markers[k], pointRadius: 10, tension:0, clip:0, order: 9-k
}));

const insetDeco = {
  id:'insetDeco',
  beforeDraw(chart){
    const c=chart.ctx, a=chart.chartArea; c.save();
    c.fillStyle='#ffffff'; c.fillRect(0,0,chart.width,chart.height);
    c.fillStyle='#cdc7c4'; c.fillRect(a.left,a.top,a.right-a.left,a.bottom-a.top);
    c.restore();
  },
  afterDraw(chart){
    const ctx=chart.ctx, a=chart.chartArea, sx=chart.scales.x, sy=chart.scales.y;
    ctx.save();
    insetMseTickValues.forEach((v,i)=>{const p=sy.getPixelForValue(v); seg(ctx,a.left-(insetMseTickLabels[i]?11:6),p,a.left,p,2.5,'#111');});
    insetNtreeTickValues.forEach(v=>{const p=sx.getPixelForValue(v); seg(ctx,p,a.bottom,p,a.bottom+(v%20===0?11:6),2.5,'#111');});
    ctx.fillStyle='#fff'; ctx.fillRect(1580,68,179,547);
    ctx.lineWidth=2; ctx.strokeStyle='#555'; ctx.strokeRect(1580,68,178,547);
    minleafLabels.forEach((lab,k)=>{const y=124+51.8*k; seg(ctx,1602,y,1695,y,2,insetLineColors[k]); ctx.drawImage(markers[k],1648-15,y-15); txt(ctx,lab,1707,y,`34px ${FONT}`,'left','#111');});
    ctx.lineWidth=2; ctx.strokeStyle='#555'; ctx.strokeRect(1,1,chart.width-2,chart.height-2);
    txt(ctx,'minleaf',1752,46,`italic 38px ${FONT}`,'right','#111');
    ctx.font=`italic 44px ${FONT}`; const w=ctx.measureText('mtry').width;
    txt(ctx,'mtry',854,96,`italic 44px ${FONT}`,'left','#111');
    txt(ctx,' = 1',854+w,96,`44px ${FONT}`,'left','#111');
    txt(ctx,'ntree',1596,668,`italic 48px ${FONT}`,'center','#111');
    ctx.save(); ctx.translate(76,329); ctx.rotate(-Math.PI/2); txt(ctx,'MSE',0,0,`40px ${FONT}`,'center','#111'); ctx.restore();
    ctx.restore();
  }
};

new Chart(document.getElementById('inset'), {
  type:'line',
  data:{datasets:insetDatasets},
  options:{
    responsive:false, animation:false, devicePixelRatio:1, events:[],
    layout:{padding:{left:0,right:170,top:57,bottom:0}},
    plugins:{legend:{display:false}, tooltip:{enabled:false}},
    scales:{
      x:{type:'linear', position:'bottom', min:0, max:110, afterBuildTicks:setTicks(insetNtreeTickValues),
         ticks:{autoSkip:false, maxRotation:0, minRotation:0, padding:19, color:'#111', font:{family:FONT,size:31}, callback:(v,i)=>insetNtreeTickLabels[i]},
         grid:{display:false, drawTicks:false}, border:{display:true, color:'#111', width:3}, afterFit:s=>{s.height=84;}},
      y:{type:'linear', position:'left', min:0.015, max:0.025, afterBuildTicks:setTicks(insetMseTickValues),
         ticks:{padding:27, color:'#111', font:{family:FONT,size:31}, callback:(v,i)=>insetMseTickLabels[i]},
         grid:{display:false, drawTicks:false}, border:{display:true, color:'#111', width:3}, afterFit:s=>{s.width=227;}}
    }
  },
  plugins:[insetDeco]
});
</script>
</body></html>
